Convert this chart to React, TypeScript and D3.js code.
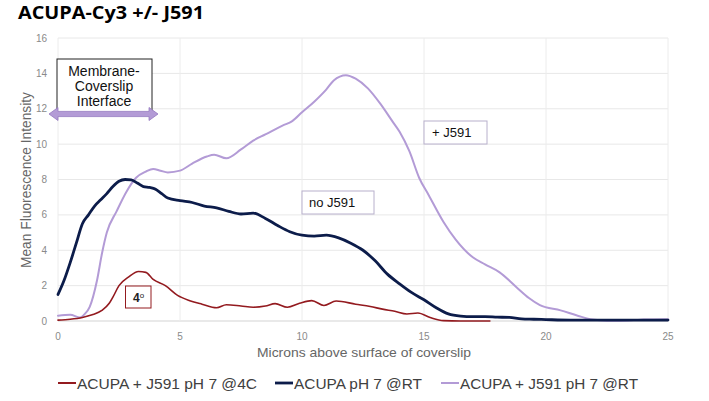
import React from "react";
import * as d3 from "d3";

const redX = [0, 0.5, 1.0, 1.4, 1.8, 2.1, 2.25, 2.5, 2.9, 3.3, 3.6, 3.9, 4.4, 4.9, 5.4, 5.9, 6.5, 6.9, 7.5, 8.0, 8.5, 8.9, 9.4, 9.9, 10.4, 10.9, 11.4, 12.2, 12.8, 13.3, 13.8, 14.3, 14.75, 15.25, 15.8, 16.5, 17.7];
const redY = [0.05, 0.1, 0.2, 0.35, 0.6, 1.0, 1.35, 2.0, 2.5, 2.8, 2.75, 2.35, 2.0, 1.45, 1.15, 0.95, 0.75, 0.92, 0.85, 0.78, 0.85, 0.98, 0.78, 1.0, 1.15, 0.88, 1.13, 0.95, 0.82, 0.67, 0.55, 0.4, 0.45, 0.2, 0.02, 0, 0];

const navyX = [0, 0.25, 0.5, 0.75, 1.0, 1.25, 1.5, 1.75, 2.0, 2.25, 2.5, 2.75, 3.0, 3.25, 3.5, 3.75, 4.0, 4.25, 4.5, 5, 5.5, 6, 6.5, 7, 7.5, 8, 8.5, 9, 9.5, 10, 10.5, 11, 11.5, 12, 12.5, 13, 13.5, 14, 14.5, 15, 15.5, 16, 16.5, 17, 17.5, 18, 18.5, 19, 19.5, 20, 21, 22, 23, 24, 25];
const navyY = [1.5, 2.3, 3.3, 4.4, 5.5, 6.0, 6.5, 6.85, 7.2, 7.6, 7.9, 8.0, 7.98, 7.8, 7.6, 7.55, 7.45, 7.2, 6.95, 6.8, 6.7, 6.5, 6.4, 6.2, 6.05, 6.1, 5.8, 5.4, 5.05, 4.85, 4.8, 4.85, 4.7, 4.4, 4.0, 3.4, 2.65, 2.1, 1.6, 1.2, 0.75, 0.4, 0.28, 0.25, 0.25, 0.22, 0.2, 0.12, 0.1, 0.08, 0.05, 0.05, 0.05, 0.05, 0.05];

const purpleX = [0, 0.5, 0.9, 1.1, 1.3, 1.6, 1.8, 2.0, 2.4, 2.8, 3.2, 3.6, 3.9, 4.2, 4.5, 5.0, 5.5, 6.1, 6.4, 6.9, 7.5, 8.0, 8.5, 9.2, 9.6, 10.0, 10.5, 11.0, 11.3, 11.8, 12.2, 12.7, 13.2, 13.7, 14.0, 14.4, 14.8, 15.2, 15.8, 16.3, 17.0, 17.5, 18.1, 18.8, 19.3, 19.75, 20.6, 21.3, 21.9, 22.5, 23, 23.6, 24, 25];
const purpleY = [0.3, 0.35, 0.2, 0.4, 0.8, 2.3, 3.8, 5.0, 6.2, 7.3, 8.1, 8.45, 8.6, 8.5, 8.4, 8.5, 8.9, 9.3, 9.4, 9.2, 9.7, 10.2, 10.55, 11.05, 11.3, 11.8, 12.4, 13.1, 13.6, 13.9, 13.7, 13.15, 12.3, 11.3, 10.7, 9.6, 8.1, 7.1, 5.6, 4.6, 3.6, 3.2, 2.75, 1.9, 1.3, 0.9, 0.6, 0.3, 0.08, 0.02, 0.02, 0.05, 0.08, 0.1];

const xTicks = [0, 5, 10, 15, 20, 25];
const yTicks = [0, 2, 4, 6, 8, 10, 12, 14, 16];

const seriesNames = ["ACUPA + J591 pH 7 @4C", "ACUPA pH 7 @RT", "ACUPA + J591 pH 7 @RT"];
const seriesColors = ["#931a1f", "#0c1c4a", "#b39bd6"];
const seriesWidths = [1.6, 2.8, 2.0];

const FONT = "'Liberation Sans', Arial, sans-serif";

export default function App() {
  const W = 709, H = 401;
  const x = d3.scaleLinear().domain([0, 25]).range([58, 668]);
  const y = d3.scaleLinear().domain([0, 16]).range([321, 38]);
  const line = d3
    .line<[number, number]>()
    .x((d) => x(d[0]))
    .y((d) => y(d[1]))
    .curve(d3.curveMonotoneX);

  const series = [
    redX.map((v, i) => [v, redY[i]] as [number, number]),
    navyX.map((v, i) => [v, navyY[i]] as [number, number]),
    purpleX.map((v, i) => [v, purpleY[i]] as [number, number]),
  ];
  const drawOrder = [2, 1, 0];

  // arrow
  const ay = 114, axL = 49, axR = 158, sh = 2.6, hh = 6.5, hl = 9;
  const arrow = `M${axL},${ay} L${axL + hl},${ay - hh} L${axL + hl},${ay - sh} L${axR - hl},${ay - sh} L${axR - hl},${ay - hh} L${axR},${ay} L${axR - hl},${ay + hh} L${axR - hl},${ay + sh} L${axL + hl},${ay + sh} L${axL + hl},${ay + hh} Z`;

  const legendLineX = [58, 275, 441];
  const legendTextW = [180, 128, 178];

  return (
    <svg
      width={W}
      height={H}
      style={{ position: "absolute", left: 0, top: 0, background: "#fff" }}
    >
      <rect x={0} y={0} width={W} height={H} fill="#fff" />
      <text x={18} y={19} fontFamily="'Open Sans', sans-serif" fontWeight={700} fontSize={18} fill="#000" textLength={186} lengthAdjust="spacingAndGlyphs">
        ACUPA-Cy3 +/- J591
      </text>

      {/* gridlines */}
      {yTicks.map((t) => (
        <line key={"gy" + t} x1={x(0)} x2={x(25)} y1={y(t)} y2={y(t)} stroke={t === 0 ? "#d3d3d3" : "#e8e8e8"} strokeWidth={1} />
      ))}
      {xTicks.map((t) => (
        <line key={"gx" + t} x1={x(t)} x2={x(t)} y1={y(16)} y2={y(0)} stroke="#ececec" strokeWidth={1} />
      ))}

      {/* tick labels */}
      {yTicks.map((t) => (
        <text key={"ty" + t} x={47} y={y(t) + 3.5} textAnchor="end" fontFamily={FONT} fontSize={10} fill="#8a8a8a">
          {t}
        </text>
      ))}
      {xTicks.map((t) => (
        <text key={"tx" + t} x={x(t)} y={339.5} textAnchor="middle" fontFamily={FONT} fontSize={10} fill="#8a8a8a">
          {t}
        </text>
      ))}

      {/* axis titles */}
      <text
        transform={`translate(31,180) rotate(-90)`}
        textAnchor="middle"
        fontFamily={FONT}
        fontSize={14}
        fill="#666"
        textLength={176}
        lengthAdjust="spacingAndGlyphs"
      >
        Mean Fluorescence Intensity
      </text>
      <text x={257} y={357} fontFamily={FONT} fontSize={13} fill="#666" textLength={214} lengthAdjust="spacingAndGlyphs">
        Microns above surface of coverslip
      </text>

      {/* series */}
      {drawOrder.map((i) => (
        <path key={"s" + i} d={line(series[i]) || ""} fill="none" stroke={seriesColors[i]} strokeWidth={seriesWidths[i]} strokeLinejoin="round" strokeLinecap="round" />
      ))}

      {/* annotations */}
      <rect x={57} y={59} width={95} height={55} fill="#fff" stroke="#222" strokeWidth={1} />
      <text x={104} y={76} textAnchor="middle" fontFamily={FONT} fontSize={14} fill="#111">Membrane-</text>
      <text x={104} y={91} textAnchor="middle" fontFamily={FONT} fontSize={14} fill="#111">Coverslip</text>
      <text x={104} y={106} textAnchor="middle" fontFamily={FONT} fontSize={14} fill="#111">Interface</text>
      <path d={arrow} fill="#b39bd6" stroke="#9478c0" strokeWidth={0.8} />

      <rect x={424} y={121} width={63} height={23} fill="#fff" stroke="#b8b0cc" strokeWidth={1} />
      <text x={432} y={137} fontFamily={FONT} fontSize={13} fill="#111">+ J591</text>

      <rect x={302} y={191} width={72} height={23} fill="#fff" stroke="#b8b0cc" strokeWidth={1} />
      <text x={309} y={207} fontFamily={FONT} fontSize={13} fill="#111">no J591</text>

      <rect x={125.5} y={286} width={25.5} height={22} fill="#fff" stroke="#931a1f" strokeWidth={1} />
      <text x={133} y={302} fontFamily={FONT} fontSize={12} fontWeight={700} fill="#222">
        4<tspan fontSize={8} fontWeight={400} dy={-4}>o</tspan>
      </text>

      {/* legend */}
      {seriesNames.map((n, i) => (
        <g key={"lg" + i}>
          <line x1={legendLineX[i]} x2={legendLineX[i] + 18} y1={383} y2={383} stroke={seriesColors[i]} strokeWidth={i === 1 ? 2.8 : 2} />
          <text x={legendLineX[i] + 19} y={389} fontFamily={FONT} fontSize={15} fill="#404040" textLength={legendTextW[i]} lengthAdjust="spacingAndGlyphs">
            {n}
          </text>
        </g>
      ))}
    </svg>
  );
}
